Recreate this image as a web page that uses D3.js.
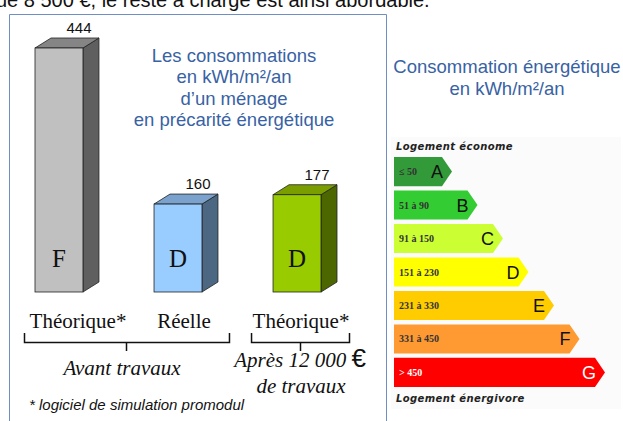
<!DOCTYPE html>
<html lang="fr">
<head>
<meta charset="UTF-8">
<title>Consommations d'un ménage en précarité énergétique</title>
<script src="https://d3js.org/d3.v7.min.js"></script>
<style>
    body, html { margin: 0; padding: 0; background: #fff; }
    svg { display: block; }
</style>
</head>
<body>
<svg id="chart"></svg>
<script>
    // bars of the left panel
    const categories = ["Théorique*", "Réelle", "Théorique*"];
    const barKeys = ["theo", "reel", "apres"];
    const values = [444, 160, 177];
    const classes = ["F", "D", "D"];
    const barFront = ["#c0c0c0", "#99ccff", "#99cc00"];
    const barTop = ["#858585", "#7aa2cc", "#7a9e00"];
    const barSide = ["#5f5f5f", "#4b6782", "#4c6600"];

    // energy label of the right panel
    const dpeLetters = ["A", "B", "C", "D", "E", "F", "G"];
    const dpeRanges = ["≤ 50", "51 à 90", "91 à 150", "151 à 230", "231 à 330", "331 à 450", "> 450"];
    const dpeColors = ["#339a3a", "#33cc33", "#ccff33", "#ffff00", "#ffcc00", "#ff9a33", "#ff0000"];

    const titleLines = ["Les consommations", "en kWh/m²/an", "d’un ménage", "en précarité énergétique"];

    const W = 623, H = 421;
    const svg = d3.select("#chart").attr("width", W).attr("height", H);

    const sans = "'Liberation Sans', Arial, sans-serif";
    const serif = "'Liberation Serif', 'Times New Roman', serif";
    const blue = "#3862a4";

    // cropped text line from the page above
    svg.append("text")
        .attr("x", -4).attr("y", 7)
        .attr("font-family", sans).attr("font-size", 20).attr("fill", "#111")
        .text("ue 8 500 €, le reste à charge est ainsi abordable.");

    // panel frame
    svg.append("path")
        .attr("d", "M9.5,421 V14.5 H386.5 V421")
        .attr("fill", "none").attr("stroke", "#6f8fc4").attr("stroke-width", 1);

    // ---- left panel: 3D bars ----
    const x = d3.scaleBand().domain(barKeys).range([35, 321]).paddingInner(0.597).paddingOuter(0);
    const y = d3.scaleLinear().domain([0, 444]).range([292, 48]);
    const dx = 16, dy = 10;

    const bars = barKeys.map((k, i) => ({ key: k, value: values[i], cls: classes[i], i }));

    const g = svg.append("g").selectAll("g").data(bars).join("g");
    const bw = x.bandwidth();

    g.append("path") // side
        .attr("d", d => {
            const x0 = x(d.key) + bw, y0 = y(d.value), y1 = y(0);
            return `M${x0},${y0} L${x0 + dx},${y0 - dy} L${x0 + dx},${y1 - dy} L${x0},${y1} Z`;
        })
        .attr("fill", d => barSide[d.i]).attr("stroke", "#222").attr("stroke-width", 0.8);
    g.append("path") // top
        .attr("d", d => {
            const x0 = x(d.key), y0 = y(d.value);
            return `M${x0},${y0} L${x0 + dx},${y0 - dy} L${x0 + bw + dx},${y0 - dy} L${x0 + bw},${y0} Z`;
        })
        .attr("fill", d => barTop[d.i]).attr("stroke", "#222").attr("stroke-width", 0.8);
    g.append("rect") // front
        .attr("x", d => x(d.key)).attr("y", d => y(d.value))
        .attr("width", bw).attr("height", d => y(0) - y(d.value))
        .attr("fill", d => barFront[d.i]).attr("stroke", "#222").attr("stroke-width", 0.8);

    g.append("text")
        .attr("x", d => x(d.key) + bw / 2 + 20).attr("y", d => y(d.value) - dy - 5)
        .attr("text-anchor", "middle")
        .attr("font-family", "'Liberation Sans Narrow', 'Arial Narrow', sans-serif")
        .attr("font-size", 15).attr("fill", "#111")
        .text(d => d.value);

    g.append("text")
        .attr("x", d => x(d.key) + bw / 2).attr("y", 267)
        .attr("text-anchor", "middle")
        .attr("font-family", serif).attr("font-size", 25).attr("fill", "#111")
        .text(d => d.cls);

    // category labels
    const catX = [78, 184, 301];
    svg.append("g").selectAll("text").data(categories).join("text")
        .attr("x", (d, i) => catX[i]).attr("y", 328)
        .attr("text-anchor", "middle")
        .attr("font-family", serif).attr("font-size", 21).attr("fill", "#111")
        .text(d => d);

    // brackets
    const brackets = [
        { x0: x("theo") - 11, x1: x("reel") + bw + 27 },
        { x0: x("apres") - 22, x1: x("apres") + bw + 28 }
    ];
    svg.append("g").selectAll("path").data(brackets).join("path")
        .attr("d", b => {
            const m = Math.round((b.x0 + b.x1) / 2) + 0.5;
            return `M${b.x0 + 0.5},333 V342.5 H${b.x1 + 0.5} V333 M${m},342.5 V351`;
        })
        .attr("fill", "none").attr("stroke", "#111").attr("stroke-width", 1.5);

    svg.append("text")
        .attr("x", 122).attr("y", 375).attr("text-anchor", "middle")
        .attr("font-family", serif).attr("font-style", "italic").attr("font-size", 21).attr("fill", "#111")
        .text("Avant travaux");

    const apres = svg.append("text")
        .attr("x", 300).attr("y", 367).attr("text-anchor", "middle")
        .attr("font-family", serif).attr("font-style", "italic").attr("font-size", 21).attr("fill", "#111");
    apres.append("tspan").text("Après 12 000 ");
    apres.append("tspan").attr("font-family", sans).attr("font-style", "normal").attr("font-size", 26).text("€");

    svg.append("text")
        .attr("x", 301).attr("y", 393).attr("text-anchor", "middle")
        .attr("font-family", serif).attr("font-style", "italic").attr("font-size", 21).attr("fill", "#111")
        .text("de travaux");

    svg.append("text")
        .attr("x", 29).attr("y", 410)
        .attr("font-family", sans).attr("font-style", "italic").attr("font-size", 15).attr("fill", "#111")
        .text("* logiciel de simulation promodul");

    svg.append("g").selectAll("text").data(titleLines).join("text")
        .attr("x", 234).attr("y", (d, i) => 62 + i * 21.3)
        .attr("text-anchor", "middle")
        .attr("font-family", sans).attr("font-size", 18.5).attr("fill", blue)
        .text(d => d);

    // ---- right panel: energy label ----
    const rt = svg.append("g").attr("font-family", sans).attr("fill", blue).attr("font-size", 18.5)
        .attr("text-anchor", "middle");
    rt.append("text").attr("x", 507).attr("y", 73).text("Consommation énergétique");
    rt.append("text").attr("x", 507).attr("y", 95).text("en kWh/m²/an");

    svg.append("rect")
        .attr("x", 391).attr("y", 137).attr("width", 230).attr("height", 272)
        .attr("fill", "#fbfbfb");

    const yb = d3.scaleBand().domain(dpeLetters).range([157, 387]).paddingInner(0.13);
    const tip = d3.scaleLinear().domain([0, 6]).range([452, 605]);
    const bx = 394, arrow = 10;

    const dpe = dpeLetters.map((l, i) => ({ l, range: dpeRanges[i], color: dpeColors[i], i }));
    const row = svg.append("g").selectAll("g").data(dpe).join("g");
    row.append("path")
        .attr("d", d => {
            const t = yb(d.l), h = yb.bandwidth(), e = tip(d.i);
            return `M${bx},${t} H${e - arrow} L${e},${t + h / 2} L${e - arrow},${t + h} H${bx} Z`;
        })
        .attr("fill", d => d.color);
    row.append("text")
        .attr("x", bx + 5).attr("y", d => yb(d.l) + yb.bandwidth() / 2 + 3.5)
        .attr("font-family", serif).attr("font-weight", "bold").attr("font-size", 10)
        .attr("fill", d => d.l === "G" ? "#fff" : "#333")
        .text(d => d.range);
    row.append("text")
        .attr("x", d => tip(d.i) - 9).attr("y", d => yb(d.l) + yb.bandwidth() / 2 + 6.5)
        .attr("text-anchor", "end")
        .attr("font-family", sans).attr("font-size", 18)
        .attr("fill", d => d.l === "G" ? "#fff" : "#111")
        .text(d => d.l);

    const cap = svg.append("g").attr("font-family", "'DejaVu Sans', sans-serif")
        .attr("font-weight", "bold").attr("font-style", "italic").attr("font-size", 10).attr("fill", "#222");
    cap.append("text").attr("x", 396).attr("y", 150).attr("letter-spacing", 0.4).text("Logement économe");
    cap.append("text").attr("x", 396).attr("y", 402).attr("letter-spacing", 0.4).text("Logement énergivore");
</script>
</body>
</html>
